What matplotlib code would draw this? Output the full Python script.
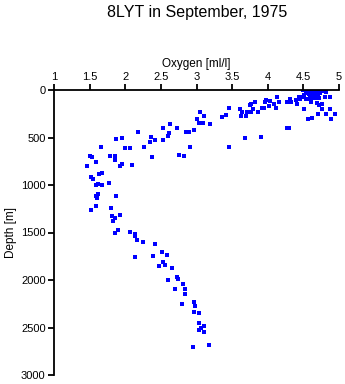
import numpy as np
import matplotlib
matplotlib.use('Agg')
import matplotlib.pyplot as plt

plt.rcParams['font.family'] = ['Liberation Sans', 'DejaVu Sans']

# Oxygen [ml/l] and depth [m]
oxygen = [
    # surface cluster
    4.50, 4.52, 4.55, 4.57, 4.60, 4.62, 4.65, 4.68, 4.70, 4.73, 4.76,
    4.53, 4.56, 4.58, 4.61, 4.64, 4.67, 4.71, 4.74, 4.51, 4.59, 4.63,
    4.66, 4.69, 4.54, 4.60, 4.72, 4.49, 4.57, 4.65, 4.59, 4.61, 4.51,
    4.69, 4.69, 4.82, 4.82, 4.80, 4.88,
    # upper layer
    3.82, 3.77, 3.79, 3.765, 3.87, 3.92, 3.95, 3.96, 3.98, 4.03, 4.02,
    4.09, 4.125, 4.11, 4.16, 4.27, 4.31, 4.33, 4.39, 4.41, 4.44, 4.45,
    4.51, 4.27, 4.30, 3.90, 4.56, 4.62, 4.705, 4.76, 4.715, 4.76, 4.82,
    4.87, 4.94, 4.89,
    3.45, 3.61, 3.64, 3.71, 3.75, 3.41, 3.36, 3.63, 3.70, 3.05, 3.11,
    3.00, 3.035, 3.095, 3.185, 2.97, 2.85, 2.90, 2.91, 3.45, 3.685, 2.83,
    # oxygen minimum
    2.63, 2.525, 2.73, 2.62, 2.60, 2.18, 2.36, 2.42, 2.35, 2.53, 1.96,
    1.87, 1.665, 2.00, 2.07, 2.27, 2.38, 2.75, 1.50, 1.53, 1.79, 1.86,
    1.85, 1.585, 1.47, 1.96, 1.93, 2.10, 1.68, 1.635, 1.52, 1.55, 1.77,
    1.62, 1.59, 1.68, 1.62, 1.585, 1.60, 1.875,
    # deep water
    1.52, 1.594, 1.80, 1.82, 1.85, 1.83, 1.93, 1.90, 1.85, 2.07, 2.14,
    2.14, 2.17, 2.25, 2.42, 2.14, 2.385, 2.51, 2.58,
    2.534, 2.48, 2.56, 2.65, 2.60, 2.73, 2.745, 2.815, 2.70, 2.84, 2.84,
    2.80, 2.965, 2.98, 2.97, 3.04, 3.03, 3.11, 3.07, 3.04, 3.10, 2.955,
    3.18,
]
depth = [
    0, 5, 10, 0, 15, 5, 10, 0, 20, 5, 15,
    35, 30, 45, 25, 40, 35, 45, 30, 60, 60, 70,
    55, 65, 90, 100, 80, 75, 20, 85, 95, 130, 53,
    88, 140, 10, 20, 77, 77,
    130, 147, 203, 228, 235, 193, 193, 130, 105, 112, 165,
    147, 77, 193, 130, 130, 95, 130, 105, 147, 77, 95,
    203, 403, 403, 491, 308, 298, 256, 203, 158, 151, 253,
    203, 256, 305,
    193, 203, 235, 235, 158, 260, 288, 277, 277, 235, 277,
    308, 351, 351, 361, 424, 445, 445, 603, 597, 502, 698,
    361, 403, 403, 449, 487, 442, 495, 526, 551, 530, 509,
    519, 603, 607, 614, 603, 702, 688, 698, 709, 695, 695,
    740, 761, 803, 782, 803, 793, 874, 888, 919, 937, 982,
    993, 1003, 1003, 1098, 1119, 1140, 1119,
    1260, 1225, 1246, 1326, 1351, 1379, 1312, 1474, 1509, 1495, 1516,
    1540, 1582, 1603, 1621, 1761, 1751, 1709, 1740,
    1814, 1856, 1846, 1877, 2003, 1972, 1986, 2045, 2098, 2098, 2150,
    2256, 2235, 2277, 2337, 2351, 2456, 2484, 2505, 2526, 2544, 2702,
    2684,
]

fig = plt.figure(figsize=(3.45, 3.84), dpi=100)
ax = fig.add_axes([54 / 345, 1 - 375 / 384, 285 / 345, 285 / 384])

ax.plot(oxygen, depth, 's', color='#0000ff', markersize=2.3, markeredgewidth=0)

ax.set_xlim(1, 5)
ax.set_ylim(3000, 0)
ax.set_xticks(np.arange(1, 5.01, 0.5))
ax.set_xticklabels(['1', '1.5', '2', '2.5', '3', '3.5', '4', '4.5', '5'])
ax.set_yticks(np.arange(0, 3001, 500))

ax.xaxis.set_ticks_position('top')
ax.xaxis.set_label_position('top')
for side in ['right', 'bottom']:
    ax.spines[side].set_visible(False)
for side in ['left', 'top']:
    ax.spines[side].set_linewidth(1.3)
ax.tick_params(axis='both', direction='out', length=4, width=1.3,
               labelsize=8, pad=2)

ax.set_xlabel('Oxygen [ml/l]', fontsize=8.5, labelpad=3)
ax.set_ylabel('Depth [m]', fontsize=8.5, labelpad=3)

fig.text(197 / 345, 1 - 12 / 384, '8LYT in September, 1975',
         ha='center', va='center', fontsize=11.5)

fig.savefig('out.png', dpi=100)
